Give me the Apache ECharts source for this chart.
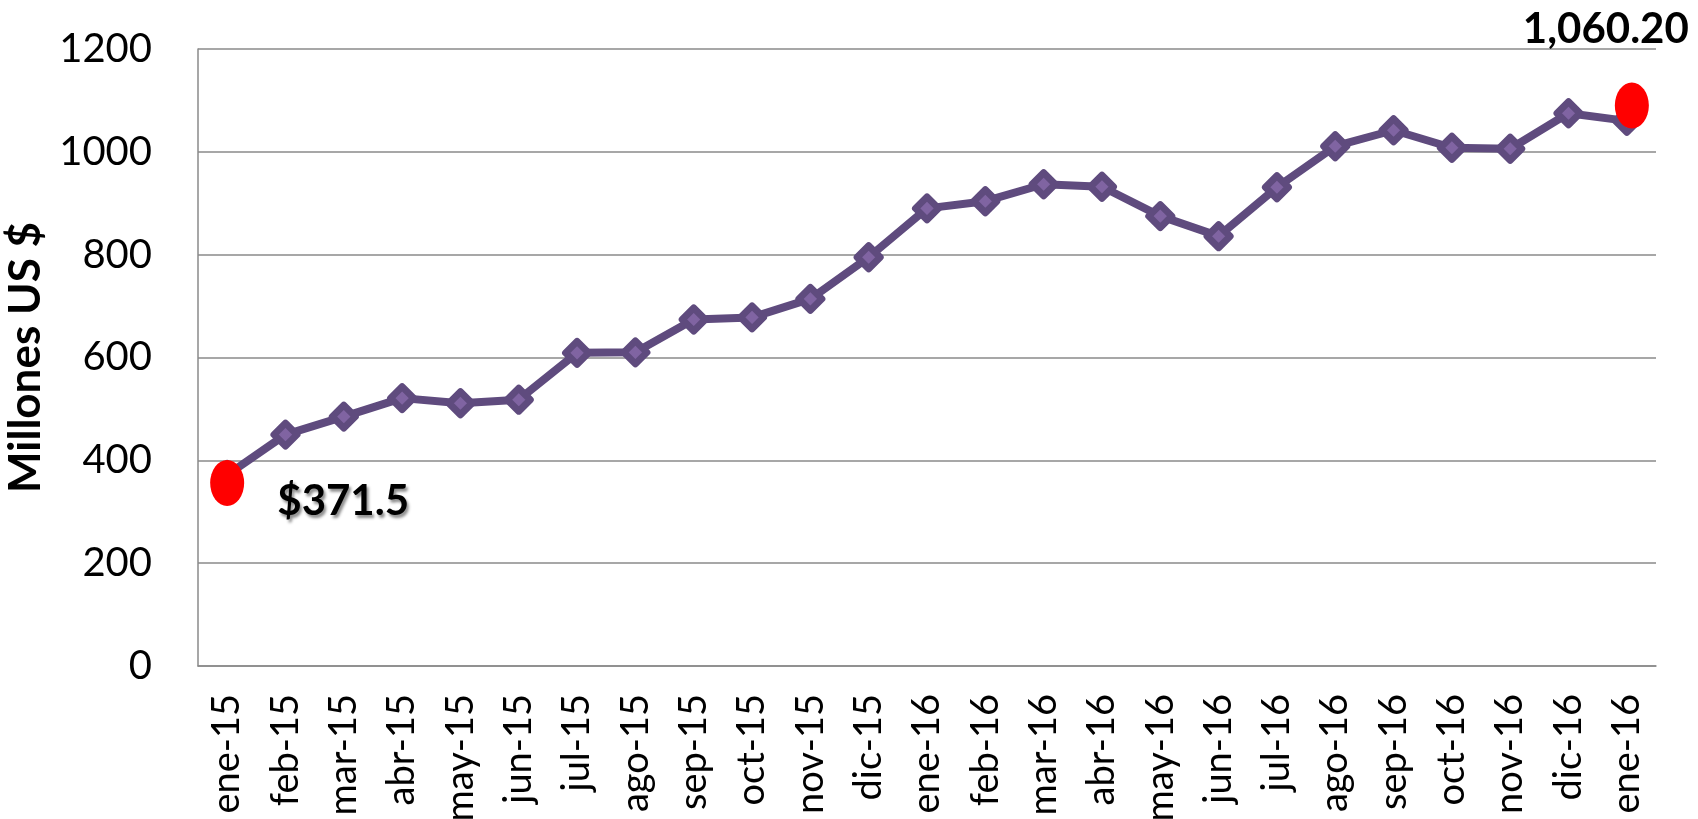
<!DOCTYPE html>
<html>
<head>
<meta charset="utf-8">
<script src="https://cdn.jsdelivr.net/npm/echarts@6/dist/echarts.min.js"></script>
<style>
html,body{margin:0;padding:0;background:#fff;}
#chart{width:1698px;height:819px;}
</style>
</head>
<body>
<div id="chart"></div>
<script>
const categories = ['ene-15','feb-15','mar-15','abr-15','may-15','jun-15','jul-15','ago-15','sep-15','oct-15','nov-15','dic-15',
  'ene-16','feb-16','mar-16','abr-16','may-16','jun-16','jul-16','ago-16','sep-16','oct-16','nov-16','dic-16','ene-16 '];
const values = [371.5,450,485,521,511,518,609,610,674,678,714,795,890,904,937,932,875,836,931,1011,1042,1008,1006,1075,1060.2];
const highlightIndex = [0, 24];
const highlightValues = [356, 1090];
const highlightLabels = ['$371.5', '1,060.20'];
const yTicks = [0, 200, 400, 600, 800, 1000, 1200];

const chart = echarts.init(document.getElementById('chart'));
const grey = '#8a8a8a';
const dotData = highlightIndex.map((idx, i) => {
  const item = { value: [idx, highlightValues[i]] };
  if (i === 0) {
    item.label = { show: true, formatter: highlightLabels[i], position: 'inside', offset: [116, 18],
      textShadowColor: 'rgba(0,0,0,0.45)', textShadowOffsetX: 2, textShadowOffsetY: 3, textShadowBlur: 3 };
  } else {
    item.symbolOffset = [5, 0];
    item.label = { show: true, formatter: highlightLabels[i], position: 'inside', offset: [-26, -76] };
  }
  return item;
});

chart.setOption({
  animation: false,
  backgroundColor: '#ffffff',
  grid: { left: 198, right: 42, top: 49, bottom: 153, containLabel: false, outerBoundsMode: 'none' },
  xAxis: {
    type: 'category',
    data: categories,
    boundaryGap: true,
    axisTick: { show: false },
    axisLine: { show: true, lineStyle: { color: grey, width: 1.5 } },
    axisLabel: { rotate: 90, margin: 28, fontFamily: 'Lato', fontSize: 38, color: '#000',
      interval: 0, formatter: v => v.trim() }
  },
  yAxis: {
    type: 'value',
    min: yTicks[0], max: yTicks[yTicks.length - 1], interval: 200,
    name: 'Millones US $',
    nameLocation: 'middle',
    nameRotate: 90,
    nameGap: 140,
    nameTextStyle: { fontFamily: 'Lato', fontWeight: 'bold', fontSize: 44, color: '#000' },
    axisTick: { show: false },
    axisLine: { show: true, lineStyle: { color: grey, width: 1.5 } },
    axisLabel: { margin: 46, fontFamily: 'Lato', fontSize: 40, color: '#000', formatter: v => String(v) },
    splitLine: { show: true, lineStyle: { color: grey, width: 1.5 } }
  },
  series: [
    {
      type: 'line',
      data: values,
      symbol: 'diamond',
      symbolSize: 23,
      lineStyle: { color: '#5F4B7E', width: 8 },
      itemStyle: { color: '#8064A2', borderColor: '#5F4B7E', borderWidth: 7, borderJoin: 'round' },
      z: 2
    },
    {
      type: 'scatter',
      data: dotData,
      symbol: 'circle',
      symbolSize: [34, 46],
      itemStyle: { color: '#FF0000', opacity: 1 },
      label: { fontFamily: 'Lato', fontWeight: 'bold', fontSize: 42, color: '#000', opacity: 1 },
      z: 5
    }
  ]
});
</script>
</body>
</html>
